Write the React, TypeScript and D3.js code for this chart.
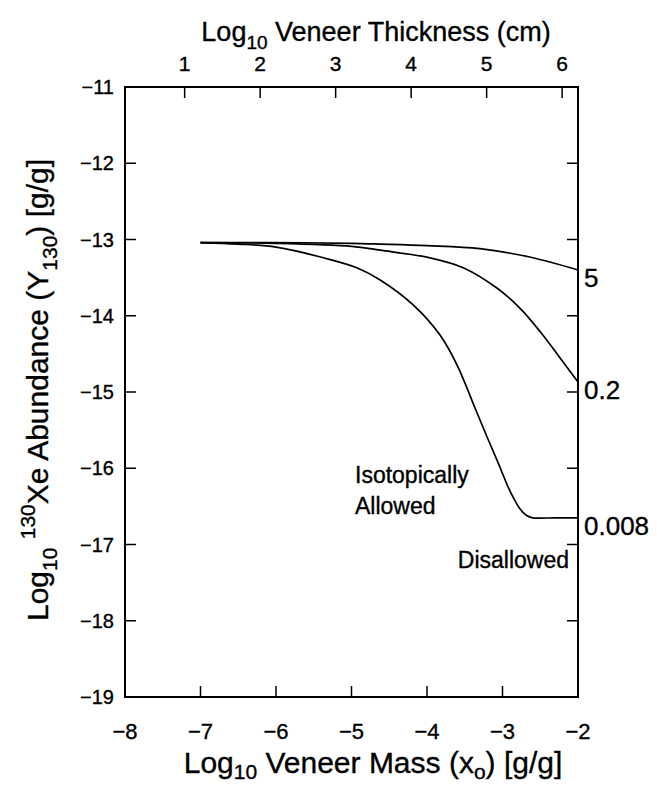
import React from "react";
import * as d3 from "d3";

// veneer mass (log10 g/g) along x, Xe abundance (log10 g/g) along y
const massTicks = [-8, -7, -6, -5, -4, -3, -2];
const abundTicks = [-11, -12, -13, -14, -15, -16, -17, -18, -19];
const thickTicks = [1, 2, 3, 4, 5, 6];

const curve5Mass = [-7, -6, -5, -4.62, -4, -3.3, -2.64, -2];
const curve5Y = [-13.04, -13.04, -13.05, -13.06, -13.08, -13.12, -13.23, -13.4];

const curve02Mass = [-7, -6, -5, -4.62, -3.96, -3.52, -3.07, -2.77, -2.5, -2.24, -2];
const curve02Y = [-13.04, -13.05, -13.09, -13.14, -13.24, -13.37, -13.64, -13.9, -14.21, -14.55, -14.87];

const curve008Mass = [-7, -6.5, -6, -5.37, -4.93, -4.62, -4.18, -3.83, -3.6, -3.36, -3.2, -3.07, -2.9, -2.77, -2.68, -2.6, -2.3, -2];
const curve008Y = [-13.04, -13.06, -13.1, -13.24, -13.37, -13.53, -13.86, -14.25, -14.65, -15.22, -15.6, -15.9, -16.3, -16.53, -16.62, -16.65, -16.65, -16.65];

const curveLabels = ["5", "0.2", "0.008"];

const W = 657;
const H = 786;
const m = { left: 125, right: 79, top: 87, bottom: 89 };
const font = "'Liberation Sans', Arial, sans-serif";

export default function App() {
  const x = d3.scaleLinear().domain([-8, -2]).range([m.left, W - m.right]);
  const y = d3.scaleLinear().domain([-11, -19]).range([m.top, H - m.bottom]);
  // thickness axis is offset from mass by a constant in log space
  const xt = d3.scaleLinear().domain([0.21, 6.21]).range([m.left, W - m.right]);

  const line = d3
    .line<[number, number]>()
    .x((d) => x(d[0]))
    .y((d) => y(d[1]))
    .curve(d3.curveCatmullRom.alpha(0.5));

  const series = [
    { mass: curve5Mass, val: curve5Y },
    { mass: curve02Mass, val: curve02Y },
    { mass: curve008Mass, val: curve008Y },
  ];

  const tk = 11;
  const x0 = m.left;
  const x1 = W - m.right;
  const y0 = m.top;
  const y1 = H - m.bottom;
  const ts = { stroke: "#000", strokeWidth: 0.35 };

  return (
    <svg width={W} height={H} style={{ position: "absolute", left: 0, top: 0, background: "#fff" }} fontFamily={font}>
      {/* curves */}
      {series.map((s, i) => (
        <path
          key={i}
          d={line(s.mass.map((v, j) => [v, s.val[j]] as [number, number])) || ""}
          fill="none"
          stroke="#000"
          strokeWidth={1.7}
        />
      ))}
      {/* frame */}
      <rect x={x0} y={y0} width={x1 - x0} height={y1 - y0} fill="none" stroke="#000" strokeWidth={2} />
      {/* bottom ticks */}
      {massTicks.map((t) => (
        <g key={"b" + t}>
          <line x1={x(t)} x2={x(t)} y1={y1} y2={y1 - tk} stroke="#000" strokeWidth={1.5} />
          <text x={x(t)} y={y1 + 42} fontSize={22} textAnchor="middle" {...ts}>
            {"\u2212" + Math.abs(t)}
          </text>
        </g>
      ))}
      {/* left & right ticks */}
      {abundTicks.map((t) => (
        <g key={"l" + t}>
          <line x1={x0} x2={x0 + tk} y1={y(t)} y2={y(t)} stroke="#000" strokeWidth={1.5} />
          <line x1={x1} x2={x1 - tk} y1={y(t)} y2={y(t)} stroke="#000" strokeWidth={1.5} />
          <text x={x0 - 11} y={y(t) + 7} fontSize={20} textAnchor="end" {...ts}>
            {"\u2212" + Math.abs(t)}
          </text>
        </g>
      ))}
      {/* top ticks */}
      {thickTicks.map((t) => (
        <g key={"t" + t}>
          <line x1={xt(t)} x2={xt(t)} y1={y0} y2={y0 + tk} stroke="#000" strokeWidth={1.5} />
          <text x={xt(t)} y={y0 - 16} fontSize={21} textAnchor="middle" {...ts}>
            {t}
          </text>
        </g>
      ))}
      {/* curve end labels */}
      {series.map((s, i) => (
        <text key={"c" + i} x={x1 + 6} y={y(s.val[s.val.length - 1]) + 17} fontSize={26} {...ts}>
          {curveLabels[i]}
        </text>
      ))}
      {/* region labels */}
      <text x={355} y={483} fontSize={23} {...ts}>Isotopically</text>
      <text x={355} y={514} fontSize={23} {...ts}>Allowed</text>
      <text x={x1 - 9} y={568} fontSize={23} textAnchor="end" {...ts}>Disallowed</text>
      {/* axis titles */}
      <text x={373} y={773} fontSize={30} textAnchor="middle" {...ts}>
        Log<tspan fontSize={21} dy={6}>10</tspan>
        <tspan dy={-6}> Veneer Mass (x</tspan>
        <tspan fontSize={21} dy={6}>o</tspan>
        <tspan dy={-6}>) [g/g]</tspan>
      </text>
      <text x={376} y={41} fontSize={27} textAnchor="middle" {...ts}>
        Log<tspan fontSize={19} dy={8}>10</tspan>
        <tspan dy={-8}> Veneer Thickness (cm)</tspan>
      </text>
      <text transform={`translate(48, 390) rotate(-90)`} fontSize={30} textAnchor="middle" {...ts}>
        Log<tspan fontSize={21} dy={9}>10</tspan>
        <tspan dy={-9}> </tspan>
        <tspan fontSize={21} dy={-13}>130</tspan>
        <tspan dy={13}>Xe Abundance (Y</tspan>
        <tspan fontSize={21} dy={9}>130</tspan>
        <tspan dy={-9}>) [g/g]</tspan>
      </text>
    </svg>
  );
}
